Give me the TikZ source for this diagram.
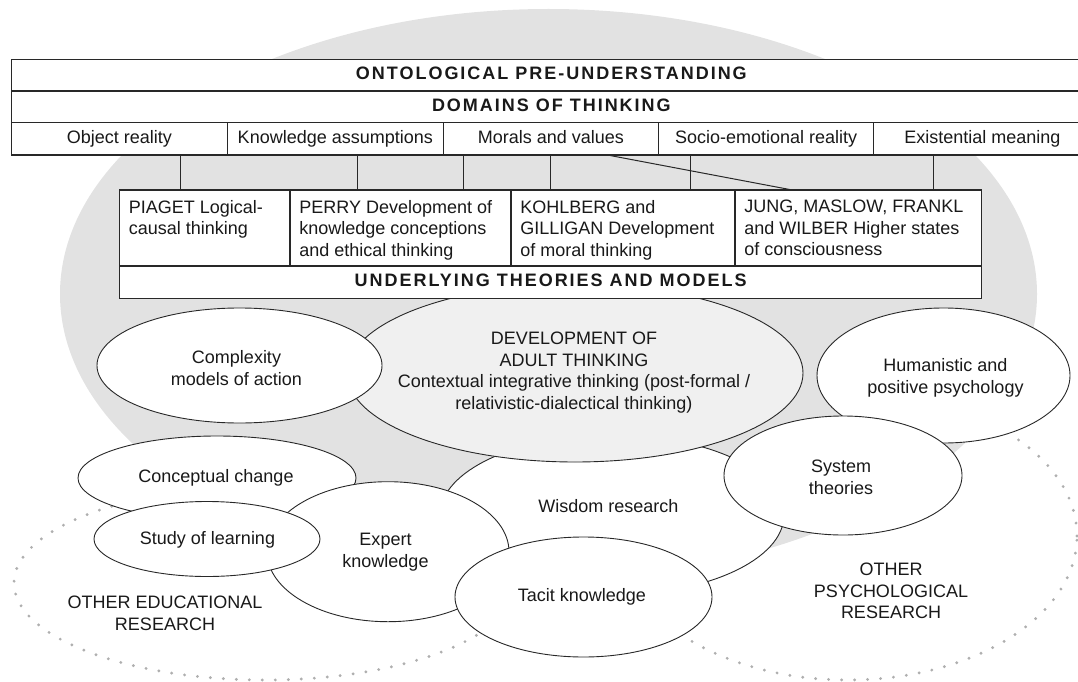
\documentclass[tikz,border=0pt]{standalone}
\usepackage{fontspec}
\setmainfont{Liberation Sans}
\newfontfamily\hdfont[LetterSpace=11]{Liberation Sans}
\usetikzlibrary{shapes.geometric}
\definecolor{bggray}{RGB}{226,226,226}
\definecolor{devgray}{RGB}{240,240,240}
\definecolor{ln}{RGB}{40,40,40}
\definecolor{dotc}{RGB}{175,175,175}
\definecolor{txt}{RGB}{25,25,25}
\tikzset{
 ell/.style={ellipse, draw=ln, line width=0.9pt, fill=white, inner sep=0pt},
 lbl/.style={align=center, inner sep=0pt, text=txt},
 cell/.style={rectangle, draw=ln, line width=1.1pt, fill=white, inner sep=0pt, text=txt, text height=13pt, text depth=4pt},
 ctext/.style={align=left, anchor=north west, inner sep=0pt, text=txt},
 hd/.style={font=\fontsize{18}{21.5}\hdfont\bfseries},
 dotring/.style={ellipse, draw=dotc, line width=3.2pt, dash pattern=on 0pt off 13pt, line cap=round, inner sep=0pt},
 conn/.style={draw=ln, line width=1pt}
}
\begin{document}
\begin{tikzpicture}[x=1pt,y=-1pt, font=\fontsize{18}{21.5}\selectfont]
\useasboundingbox (0,0) rectangle (1078,682);
% research fields (dotted)
\node[dotring, minimum width=502pt, minimum height=194pt] (edu) at (265,583) {};
\node[dotring, minimum width=458pt, minimum height=288pt] (psy) at (848,536) {};
% background
\node[ellipse, fill=bggray, inner sep=0pt, minimum width=977pt, minimum height=570pt] (bg) at (548.5,294) {};
% ellipses
\node[ell, minimum width=344pt, minimum height=160pt] (wis) at (612,515) {};
\node[ell, fill=devgray, minimum width=456pt, minimum height=178pt] (dev) at (575,373) {};
\node[ell, minimum width=285pt, minimum height=115pt] (cpx) at (239.5,365.5) {};
\node[ell, minimum width=253pt, minimum height=135pt] (hum) at (943.5,375.5) {};
\node[ell, minimum width=238pt, minimum height=119pt] (sys) at (843,475.5) {};
\node[ell, minimum width=278pt, minimum height=84pt] (con) at (217,478) {};
\node[ell, minimum width=242pt, minimum height=140pt] (exp) at (388,551.7) {};
\node[ell, minimum width=226pt, minimum height=75pt] (stu) at (207,539) {};
\node[ell, minimum width=257pt, minimum height=120pt] (tac) at (583.5,597) {};
% ellipse texts
\node[lbl] (devt) at (574,372.5) {DEVELOPMENT OF\\ADULT THINKING\\Contextual integrative thinking (post-formal /\\relativistic-dialectical thinking)};
\node[lbl] (cpxt) at (236.5,368) {Complexity\\models of action};
\node[lbl] (humt) at (945.5,378) {Humanistic and\\positive psychology};
\node[lbl] (syst) at (841,477.5) {System\\theories};
\node[lbl] (cont) at (216,478) {Conceptual change};
\node[lbl] (expt) at (385.5,552) {Expert\\knowledge};
\node[lbl] (stut) at (207.5,540) {Study of learning};
\node[lbl] (wist) at (608.5,506) {Wisdom research};
\node[lbl] (tact) at (582,597) {Tacit knowledge};
\node[lbl] (edut) at (165,613.5) {OTHER EDUCATIONAL\\RESEARCH};
\node[lbl] (psyt) at (891,591) {OTHER\\PSYCHOLOGICAL\\RESEARCH};
% top table
\node[cell, hd, minimum width=1079.3pt, minimum height=31.7pt] (onto) at (551.35,75.15) {ONTOLOGICAL PRE-UNDERSTANDING};
\node[cell, hd, minimum width=1079.3pt, minimum height=31.7pt] (dom) at (551.35,106.85) {DOMAINS OF THINKING};
\node[cell, minimum width=215.6pt, minimum height=32.3pt] (d1) at (119.5,138.85) {Object reality};
\node[cell, minimum width=216pt, minimum height=32.3pt] (d2) at (335.3,138.85) {Knowledge assumptions};
\node[cell, minimum width=215.2pt, minimum height=32.3pt] (d3) at (550.9,138.85) {Morals and values};
\node[cell, minimum width=215.2pt, minimum height=32.3pt] (d4) at (766.1,138.85) {Socio-emotional reality};
\node[cell, minimum width=217.3pt, minimum height=32.3pt] (d5) at (982.35,138.85) {Existential meaning};
% theories table
\node[cell, minimum width=170.5pt, minimum height=76pt] (t1) at (204.75,228) {};
\node[cell, minimum width=221pt, minimum height=76pt] (t2) at (400.5,228) {};
\node[cell, minimum width=224pt, minimum height=76pt] (t3) at (623,228) {};
\node[cell, minimum width=246.7pt, minimum height=76pt] (t4) at (858.35,228) {};
\node[cell, hd, minimum width=862.2pt, minimum height=32.5pt] (und) at (550.6,282.25) {UNDERLYING THEORIES AND MODELS};
\node[ctext] (t1t) at ([shift={(9.7,10.5)}]t1.north west) {PIAGET Logical-\\causal thinking};
\node[ctext] (t2t) at ([shift={(9.7,10.5)}]t2.north west) {PERRY Development of\\knowledge conceptions\\and ethical thinking};
\node[ctext] (t3t) at ([shift={(9.7,10.5)}]t3.north west) {KOHLBERG and\\GILLIGAN Development\\of moral thinking};
\node[ctext] (t4t) at ([shift={(9.7,10.5)}]t4.north west) {JUNG, MASLOW, FRANKL\\and WILBER Higher states\\of consciousness};
% connectors
\coordinate (k1) at (180.7,0);
\coordinate (k2) at (357.3,0);
\coordinate (k3) at (463.3,0);
\coordinate (k4) at (550.7,0);
\coordinate (k5) at (690.6,0);
\coordinate (k6) at (933.6,0);
\coordinate (kd1) at (610.3,0);
\coordinate (kd2) at (789.4,0);
\draw[conn] (d1.south -| k1) -- (t1.north -| k1);
\draw[conn] (d2.south -| k2) -- (t2.north -| k2);
\draw[conn] (d3.south -| k3) -- (t2.north -| k3);
\draw[conn] (d3.south -| k4) -- (t3.north -| k4);
\draw[conn] (d4.south -| k5) -- (t3.north -| k5);
\draw[conn] (d5.south -| k6) -- (t4.north -| k6);
\draw[conn] (d3.south -| kd1) -- (t4.north -| kd2);
\end{tikzpicture}
\end{document}
